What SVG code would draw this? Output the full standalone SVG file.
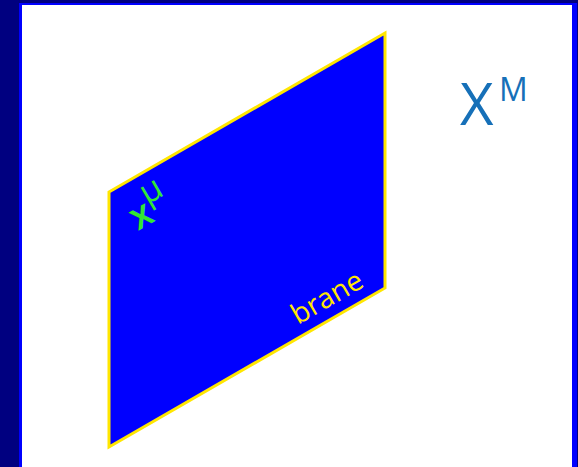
<svg xmlns="http://www.w3.org/2000/svg" width="578" height="467" viewBox="0 0 578 467">
<style>
.lbl{font-family:"Open Sans","DejaVu Sans",sans-serif;}
</style>
<rect x="0" y="0" width="578" height="467" fill="#000080"/>
<rect x="19" y="3" width="558" height="470" fill="#0000FF"/>
<rect x="22" y="5" width="550" height="470" fill="#FFFFFF"/>
<g id="brane">
<polygon points="109,192 385,33 385,288 109,447" fill="#0000FF" stroke="#FFE600" stroke-width="3" stroke-linejoin="miter"/>
<text class="lbl" transform="translate(298,325) rotate(-30)" font-size="28" fill="#FFE600" textLength="78" lengthAdjust="spacingAndGlyphs">brane</text>
</g>
<g id="xmu">
<text class="lbl" transform="translate(138,231) rotate(-30)" font-size="38" font-weight="600" fill="#33E633">x<tspan font-size="34" font-weight="400" dy="-18">μ</tspan></text>
</g>
<g id="XM">
<text class="lbl" x="460" y="125" font-size="58" fill="#1670B8" font-weight="400">X</text>
<text class="lbl" x="499" y="101" font-size="32" fill="#1670B8" font-weight="400">M</text>
</g>
</svg>
